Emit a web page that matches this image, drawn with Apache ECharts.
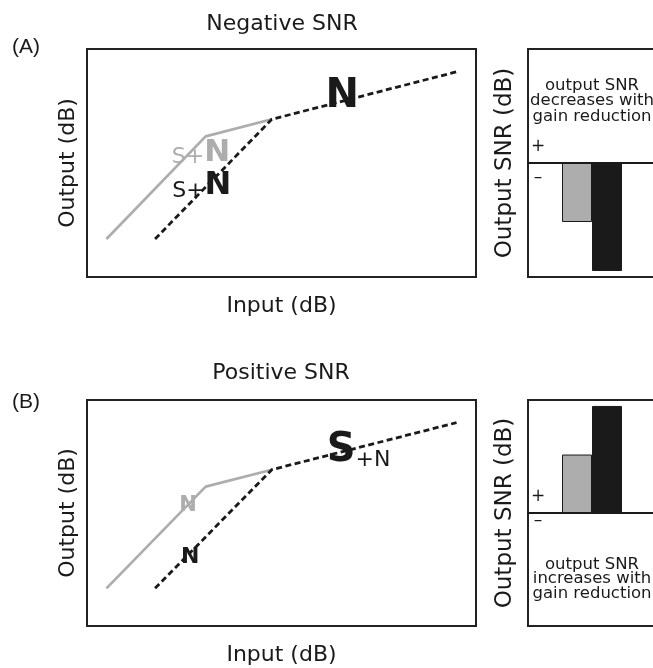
<!DOCTYPE html>
<html><head><meta charset="utf-8">
<script src="https://cdn.jsdelivr.net/npm/echarts@6/dist/echarts.min.js"></script>
<style>html,body{margin:0;padding:0;background:#fff}#c{width:653px;height:668px}</style>
</head><body><div id="c"></div><script>
// ---- data ----
const inputGrey = [5, 30.5, 47.5];
const outputGrey = [10, 37, 41.5];
const inputBlack = [17.5, 47.5, 95];
const outputBlack = [10, 41.5, 54];
const barCategories = ['gain reduction'];
const snrGreyA = [-5.9];
const snrBlackA = [-10.8];
const snrGreyB = [5.9];
const snrBlackB = [10.8];
const panelTitles = ['Negative SNR', 'Positive SNR'];
const panelLetters = ['(A)', '(B)'];
const xName = 'Input (dB)';
const yName = 'Output (dB)';
const barYName = 'Output SNR (dB)';
const noteA = ['output SNR', 'decreases with', 'gain reduction'];
const noteB = ['output SNR', 'increases with', 'gain reduction'];
// annotation anchors (data coordinates of the line panels)
const annA = [
  { text: 'S+N', tone: 'grey', at: [29.3, 32.6] },
  { text: 'S+N', tone: 'black', at: [29.5, 23.7] },
  { text: 'N', tone: 'big', at: [65.6, 47.4] }
];
const annB = [
  { text: 'N', tone: 'greyN', at: [26.0, 32.1] },
  { text: 'N', tone: 'blackN', at: [26.5, 18.3] },
  { text: 'S+N', tone: 'bigS', at: [69.8, 46.7] }
];

const FONT = 'DejaVu Sans';
const GREY = '#adadad';
const BLACK = '#1a1a1a';
const chart = echarts.init(document.getElementById('c'), null, { renderer: 'canvas' });

function pts(xs, ys) { return xs.map((x, i) => [x, ys[i]]); }

function annLabel(a) {
  const rich = {
    sg: { fontFamily: FONT, fontSize: 22, color: GREY, verticalAlign: 'bottom', lineHeight: 30 },
    ng: { fontFamily: FONT, fontSize: 31, fontWeight: 'bold', color: GREY, verticalAlign: 'bottom', lineHeight: 30 },
    sb: { fontFamily: FONT, fontSize: 22, color: BLACK, verticalAlign: 'bottom', lineHeight: 30 },
    nb: { fontFamily: FONT, fontSize: 32, fontWeight: 'bold', color: BLACK, verticalAlign: 'bottom', lineHeight: 30 },
    big: { fontFamily: FONT, fontSize: 40, fontWeight: 'bold', color: BLACK, textShadowColor: '#9a9a9a', textShadowOffsetX: -2, textShadowOffsetY: -1, verticalAlign: 'bottom', lineHeight: 40 },
    small: { fontFamily: FONT, fontSize: 22, color: BLACK, verticalAlign: 'bottom', lineHeight: 42 },
    gn: { fontFamily: FONT, fontSize: 21, color: GREY, fontWeight: 'bold' },
    bn: { fontFamily: FONT, fontSize: 22, color: BLACK, fontWeight: 'bold' }
  };
  let f;
  if (a.tone === 'grey') f = '{sg|S+}{ng|N}';
  else if (a.tone === 'black') f = '{sb|S+}{nb|N}';
  else if (a.tone === 'big') f = '{big|N}';
  else if (a.tone === 'greyN') f = '{gn|N}';
  else if (a.tone === 'blackN') f = '{bn|N}';
  else f = '{big|S}{small|+N}';
  return { value: a.at, label: { show: true, position: 'inside', formatter: f, rich: rich } };
}

const nameStyle = { fontFamily: FONT, fontSize: 22, color: BLACK };
const hidden = { axisLine: { show: false }, axisTick: { show: false }, axisLabel: { show: false }, splitLine: { show: false } };

function lineX(grid) {
  return Object.assign({ type: 'value', gridIndex: grid, min: 0, max: 100, name: xName, nameLocation: 'middle', nameGap: 18, nameTextStyle: nameStyle }, hidden);
}
function lineY(grid) {
  return Object.assign({ type: 'value', gridIndex: grid, min: 0, max: 60, name: yName, nameLocation: 'middle', nameGap: 8, nameRotate: 90, nameTextStyle: nameStyle }, hidden);
}
function barX(grid) {
  return { type: 'category', gridIndex: grid, data: barCategories, axisLine: { show: true, onZero: true, lineStyle: { color: BLACK, width: 2 } }, axisTick: { show: false }, axisLabel: { show: false }, splitLine: { show: false } };
}
function barY(grid) {
  return Object.assign({ type: 'value', gridIndex: grid, min: -11.4, max: 11.4, name: barYName, nameLocation: 'middle', nameGap: 11, nameRotate: 90, nameTextStyle: Object.assign({}, nameStyle, { fontSize: 23 }) }, hidden);
}

const gridBase = { show: true, borderColor: '#222', borderWidth: 2, backgroundColor: 'transparent', containLabel: false, outerBoundsMode: 'none' };

function lineSeries(ax) {
  return [
    { type: 'line', xAxisIndex: ax, yAxisIndex: ax, data: pts(inputGrey, outputGrey), symbol: 'none', lineStyle: { color: GREY, width: 2.7 }, z: 2 },
    { type: 'line', xAxisIndex: ax, yAxisIndex: ax, data: pts(inputBlack, outputBlack), symbol: 'none', lineStyle: { color: BLACK, width: 2.8, type: [6, 3.5] }, z: 3 }
  ];
}
function barSeries(ax, g, b) {
  return [
    { type: 'bar', xAxisIndex: ax, yAxisIndex: ax, data: g, barWidth: 30, barGap: '0%', itemStyle: { color: GREY, borderColor: BLACK, borderWidth: 1 } },
    { type: 'bar', xAxisIndex: ax, yAxisIndex: ax, data: b, barWidth: 30, barGap: '0%', itemStyle: { color: BLACK, borderColor: BLACK, borderWidth: 1 } }
  ];
}
function annSeries(ax, list) {
  return { type: 'scatter', xAxisIndex: ax, yAxisIndex: ax, symbolSize: 0, itemStyle: { opacity: 1 }, data: list.map(annLabel), z: 5 };
}

function txt(x, y, text, size, extra) {
  return { type: 'text', x: x, y: y, style: Object.assign({ text: text, fontFamily: FONT, fontSize: size, fill: BLACK, align: 'center', verticalAlign: 'middle' }, extra || {}) };
}

const option = {
  animation: false,
  backgroundColor: '#fff',
  grid: [
    Object.assign({ left: 87, top: 49, width: 389, height: 228 }, gridBase),
    Object.assign({ left: 528, top: 49, width: 128, height: 228 }, gridBase),
    Object.assign({ left: 87, top: 400, width: 389, height: 226 }, gridBase),
    Object.assign({ left: 528, top: 400, width: 128, height: 226 }, gridBase)
  ],
  xAxis: [lineX(0), barX(1), lineX(2), barX(3)],
  yAxis: [lineY(0), barY(1), lineY(2), barY(3)],
  series: [].concat(
    lineSeries(0),
    [annSeries(0, annA)],
    barSeries(1, snrGreyA, snrBlackA),
    lineSeries(2),
    [annSeries(2, annB)],
    barSeries(3, snrGreyB, snrBlackB)
  ),
  graphic: [
    txt(282, 24, panelTitles[0], 22),
    txt(281, 373, panelTitles[1], 22),
    txt(12, 47, panelLetters[0], 21, { fontFamily: 'Liberation Sans', align: 'left' }),
    txt(12, 402, panelLetters[1], 21, { fontFamily: 'Liberation Sans', align: 'left' }),
    txt(538, 147, '+', 17),
    txt(538, 178, '\u2013', 17),
    txt(538, 497, '+', 17),
    txt(538, 521, '\u2013', 17),
    txt(592, 101, noteA.join('\n'), 16.5, { lineHeight: 15.5 }),
    txt(592, 579, noteB.join('\n'), 16.5, { lineHeight: 14.5 })
  ]
};
chart.setOption(option);
</script></body></html>
